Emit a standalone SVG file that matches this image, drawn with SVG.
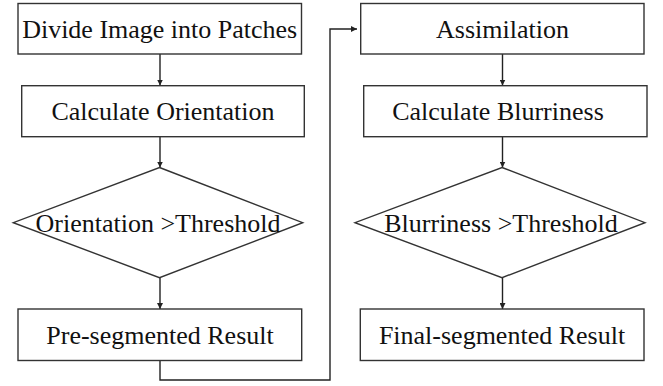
<svg xmlns="http://www.w3.org/2000/svg" width="663" height="386" viewBox="0 0 663 386">
<defs>
<marker id="ah" viewBox="0 0 10 10" refX="10" refY="5" markerWidth="6" markerHeight="6" markerUnits="userSpaceOnUse" orient="auto">
<path d="M0,0 L10,5 L0,10 z" fill="#222"/>
</marker>
<style>
.box{fill:#fff;stroke:#333;stroke-width:1.4}
.t{font-family:"Liberation Serif","Times New Roman",serif;font-size:26px;fill:#111;text-anchor:middle}
.c{fill:none;stroke:#222;stroke-width:1.4}
</style>
</defs>
<rect width="663" height="386" fill="#fff"/>
<g id="connectors">
<path class="c" d="M160,54 V85.5" marker-end="url(#ah)"/>
<path class="c" d="M160,136.5 V167.5" marker-end="url(#ah)"/>
<path class="c" d="M160,277.5 V309" marker-end="url(#ah)"/>
<path class="c" d="M160,360.5 V380 H330 V29 H357" marker-end="url(#ah)"/>
<path class="c" d="M502.5,54 V85.5" marker-end="url(#ah)"/>
<path class="c" d="M502.5,136.5 V167.5" marker-end="url(#ah)"/>
<path class="c" d="M502.5,277.5 V309" marker-end="url(#ah)"/>
</g>
<g id="divide">
<rect class="box" x="18" y="3.5" width="283.5" height="50.5"/>
<text class="t" x="159.7" y="37.5">Divide Image into Patches</text>
</g>
<g id="calc-orientation">
<rect class="box" x="21.7" y="85.7" width="282.6" height="51"/>
<text class="t" x="163" y="119.5">Calculate Orientation</text>
</g>
<g id="orientation-threshold">
<polygon class="box" points="159.5,167.5 302.7,222.7 159.5,277.7 13.3,222.7"/>
<text class="t" x="158" y="232">Orientation &gt;Threshold</text>
</g>
<g id="pre-segmented">
<rect class="box" x="18" y="309" width="283.7" height="51.5"/>
<text class="t" x="160" y="343.8">Pre-segmented Result</text>
</g>
<g id="assimilation">
<rect class="box" x="360.7" y="3.5" width="283.3" height="50.5"/>
<text class="t" x="502.5" y="37.5">Assimilation</text>
</g>
<g id="calc-blurriness">
<rect class="box" x="363.7" y="85.7" width="283.3" height="51"/>
<text class="t" x="498" y="119.5">Calculate Blurriness</text>
</g>
<g id="blurriness-threshold">
<polygon class="box" points="502,167.5 645,222.7 502,277.7 355,222.7"/>
<text class="t" x="501" y="232">Blurriness &gt;Threshold</text>
</g>
<g id="final-segmented">
<rect class="box" x="360.3" y="309" width="283.7" height="51.5"/>
<text class="t" x="502" y="343.8">Final-segmented Result</text>
</g>
</svg>
